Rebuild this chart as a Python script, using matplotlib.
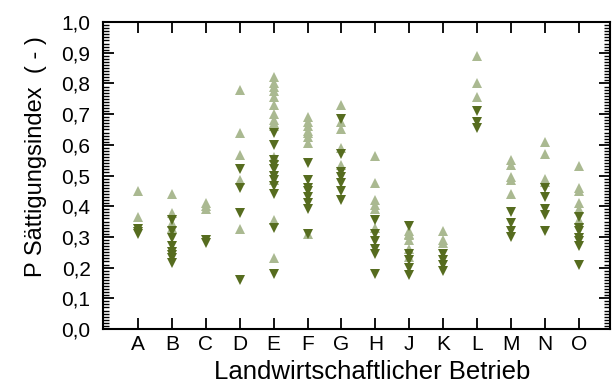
import matplotlib
matplotlib.use("Agg")
import matplotlib.pyplot as plt
from matplotlib.ticker import MultipleLocator, FuncFormatter

plt.rcParams['font.family'] = ['Liberation Sans', 'DejaVu Sans']

categories = ["A", "B", "C", "D", "E", "F", "G", "H", "J", "K", "L", "M", "N", "O"]

light_vals = {
    "A": [0.45, 0.364],
    "B": [0.44, 0.378, 0.33, 0.345],
    "C": [0.41, 0.40, 0.39],
    "D": [0.78, 0.64, 0.567, 0.485, 0.325],
    "E": [0.82, 0.80, 0.79, 0.775, 0.756, 0.73, 0.70, 0.68, 0.67, 0.66, 0.56, 0.485, 0.355, 0.23],
    "F": [0.69, 0.675, 0.66, 0.645, 0.64, 0.625, 0.605, 0.31],
    "G": [0.73, 0.675, 0.65, 0.59, 0.535],
    "H": [0.565, 0.475, 0.42, 0.405, 0.39, 0.33],
    "J": [0.32, 0.31, 0.305, 0.29, 0.26, 0.235],
    "K": [0.32, 0.29, 0.28],
    "L": [0.89, 0.80, 0.755],
    "M": [0.55, 0.535, 0.495, 0.485, 0.44],
    "N": [0.61, 0.57, 0.49, 0.48],
    "O": [0.53, 0.46, 0.45, 0.41, 0.39, 0.355],
}

dark_vals = {
    "A": [0.325, 0.315, 0.31],
    "B": [0.355, 0.32, 0.296, 0.27, 0.25, 0.24, 0.23, 0.215],
    "C": [0.29, 0.28],
    "D": [0.52, 0.46, 0.378, 0.16],
    "E": [0.64, 0.60, 0.55, 0.535, 0.52, 0.50, 0.485, 0.465, 0.44, 0.33, 0.18],
    "F": [0.54, 0.485, 0.46, 0.45, 0.43, 0.41, 0.39, 0.31],
    "G": [0.685, 0.57, 0.51, 0.495, 0.475, 0.45, 0.42],
    "H": [0.355, 0.31, 0.285, 0.26, 0.245, 0.18],
    "J": [0.335, 0.245, 0.225, 0.20, 0.175],
    "K": [0.245, 0.225, 0.21, 0.19],
    "L": [0.71, 0.675, 0.655],
    "M": [0.38, 0.345, 0.32, 0.30],
    "N": [0.46, 0.43, 0.39, 0.37, 0.32],
    "O": [0.365, 0.33, 0.32, 0.295, 0.285, 0.27, 0.21],
}

light_color = "#aab991"
dark_color = "#566c1f"

fig = plt.figure(figsize=(6.15, 3.87), dpi=100)
ax = fig.add_axes([0.1675, 0.150, 0.8245, 0.793])

for i, c in enumerate(categories):
    v = light_vals[c]
    ax.plot([i] * len(v), v, linestyle="none", marker="^", ms=7,
            color=light_color, markeredgewidth=0)
for i, c in enumerate(categories):
    v = dark_vals[c]
    ax.plot([i] * len(v), v, linestyle="none", marker="v", ms=7,
            color=dark_color, markeredgewidth=0)

ax.set_xlim(-1.03, 13.92)
ax.set_ylim(0, 1.0)
ax.set_xticks(range(len(categories)))
ax.set_xticklabels(categories)
ax.yaxis.set_major_locator(MultipleLocator(0.1))
ax.yaxis.set_minor_locator(MultipleLocator(0.01))
ax.yaxis.set_major_formatter(FuncFormatter(lambda v, p: f"{v:.1f}".replace(".", ",")))

ax.tick_params(axis="both", which="major", direction="in", length=8, width=1.3,
               labelsize=15, top=True, right=True)
ax.tick_params(axis="y", which="major", pad=9)
ax.tick_params(axis="x", which="major", pad=4)
ax.tick_params(axis="y", which="minor", direction="in", length=4, width=1.0,
               right=True, left=True)
ax.tick_params(axis="x", which="minor", bottom=False, top=False)
for s in ax.spines.values():
    s.set_linewidth(1.5)

ax.set_xlabel("Landwirtschaftlicher Betrieb", fontsize=18.5, labelpad=5)
ax.set_ylabel("P Sättigungsindex  ( - )", fontsize=17, labelpad=10)
ax.xaxis.label.set_x(0.53)
ax.yaxis.label.set_y(0.563)

fig.savefig("out.png", dpi=100)
